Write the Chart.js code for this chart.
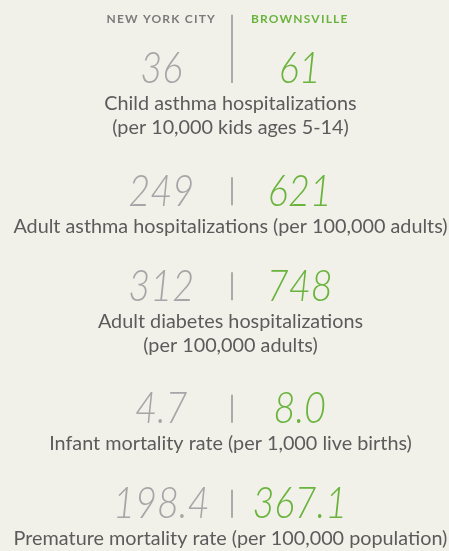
<!DOCTYPE html>
<html>
<head>
<meta charset="utf-8">
<script src="https://cdn.jsdelivr.net/npm/chart.js@4/dist/chart.umd.min.js"></script>
<style>
  html, body { margin: 0; padding: 0; background: #f2f1e9; }
  #wrap { width: 449px; height: 551px; position: relative; }
</style>
</head>
<body>
<div id="wrap"><canvas id="healthChart"></canvas></div>
<script>
// Health comparison: New York City vs Brownsville

const cities = ['NEW YORK CITY', 'BROWNSVILLE'];
const metricLabels = [
  ['Child asthma hospitalizations', '(per 10,000 kids ages 5-14)'],
  ['Adult asthma hospitalizations (per 100,000 adults)'],
  ['Adult diabetes hospitalizations', '(per 100,000 adults)'],
  ['Infant mortality rate (per 1,000 live births)'],
  ['Premature mortality rate (per 100,000 population)']
];
const nycValues = [36, 249, 312, 4.7, 198.4];
const brownsvilleValues = [61, 621, 748, 8.0, 367.1];
const decimals = [0, 0, 0, 1, 1];

const cityColors = ['#a6a6a8', '#6ab43e'];
const headerColors = ['#7b7b7d', '#6ab43e'];
const labelColor = '#5b5b5b';
const dividerColor = '#8c8c8c';

// row positions in "line units": each block is a number plus its label lines
const rowPos = [];
let acc = 0;
metricLabels.forEach(lines => {
  rowPos.push(acc);
  acc += 2.48 + lines.length;
});

function makeData(values, city) {
  return values.map((v, i) => ({ x: city, y: rowPos[i] }));
}

const textPlugin = {
  id: 'healthText',
  afterDraw(chart) {
    const { ctx, scales: { x, y } } = chart;
    const mid = (x.getPixelForValue(0) + x.getPixelForValue(1)) / 2;
    ctx.save();

    // header
    ctx.font = 'bold 12px Lato';
    ctx.letterSpacing = '1.2px';
    ctx.textAlign = 'center';
    ctx.textBaseline = 'middle';
    cities.forEach((c, i) => {
      ctx.fillStyle = headerColors[i];
      ctx.fillText(c, x.getPixelForValue(i), y.getPixelForValue(-1.78));
    });
    ctx.letterSpacing = '0px';

    // values
    const valueSets = [nycValues, brownsvilleValues];
    chart.data.datasets.forEach((ds, di) => {
      const meta = chart.getDatasetMeta(di);
      meta.data.forEach((pt, i) => {
        const txt = valueSets[di][i].toFixed(decimals[i]);
        ctx.save();
        ctx.translate(pt.x, pt.y + 15.5);
        ctx.scale(0.86, 1);
        ctx.font = 'italic 300 44px Lato';
        ctx.fillStyle = cityColors[di];
        ctx.textAlign = 'center';
        ctx.textBaseline = 'alphabetic';
        ctx.fillText(txt, 0, 0);
        ctx.restore();
      });
    });

    // dividers
    ctx.strokeStyle = dividerColor;
    ctx.lineWidth = 1.4;
    rowPos.forEach((r, i) => {
      const cy = y.getPixelForValue(r);
      const top = i === 0 ? y.getPixelForValue(-1.95) : cy - 13;
      ctx.beginPath();
      ctx.moveTo(mid + 1.5, top);
      ctx.lineTo(mid + 1.5, cy + 15);
      ctx.stroke();
    });

    // metric labels
    ctx.fillStyle = labelColor;
    metricLabels.forEach((lines, i) => {
      lines.forEach((line, k) => {
        ctx.save();
        ctx.translate(mid, y.getPixelForValue(rowPos[i] + 1.33 + k * 0.88));
        ctx.scale(1.07, 1);
        ctx.font = '18.5px Lato';
        ctx.textAlign = 'center';
        ctx.textBaseline = 'middle';
        ctx.fillText(line, 0, 0);
        ctx.restore();
      });
    });

    ctx.restore();
  }
};

new Chart(document.getElementById('healthChart').getContext('2d'), {
  type: 'line',
  data: {
    labels: cities,
    datasets: [
      { label: 'New York City', data: makeData(nycValues, cities[0]), showLine: false, pointRadius: 0 },
      { label: 'Brownsville', data: makeData(brownsvilleValues, cities[1]), showLine: false, pointRadius: 0 }
    ]
  },
  options: {
    responsive: true,
    maintainAspectRatio: false,
    animation: false,
    layout: { padding: { left: 92, right: 80, top: 0, bottom: 0 } },
    plugins: {
      legend: { display: false },
      tooltip: { enabled: false }
    },
    scales: {
      x: { type: 'category', display: false, offset: true },
      y: { type: 'linear', display: false, reverse: true, min: -2.49, max: 17.69 }
    }
  },
  plugins: [textPlugin]
});
</script>
</body>
</html>
